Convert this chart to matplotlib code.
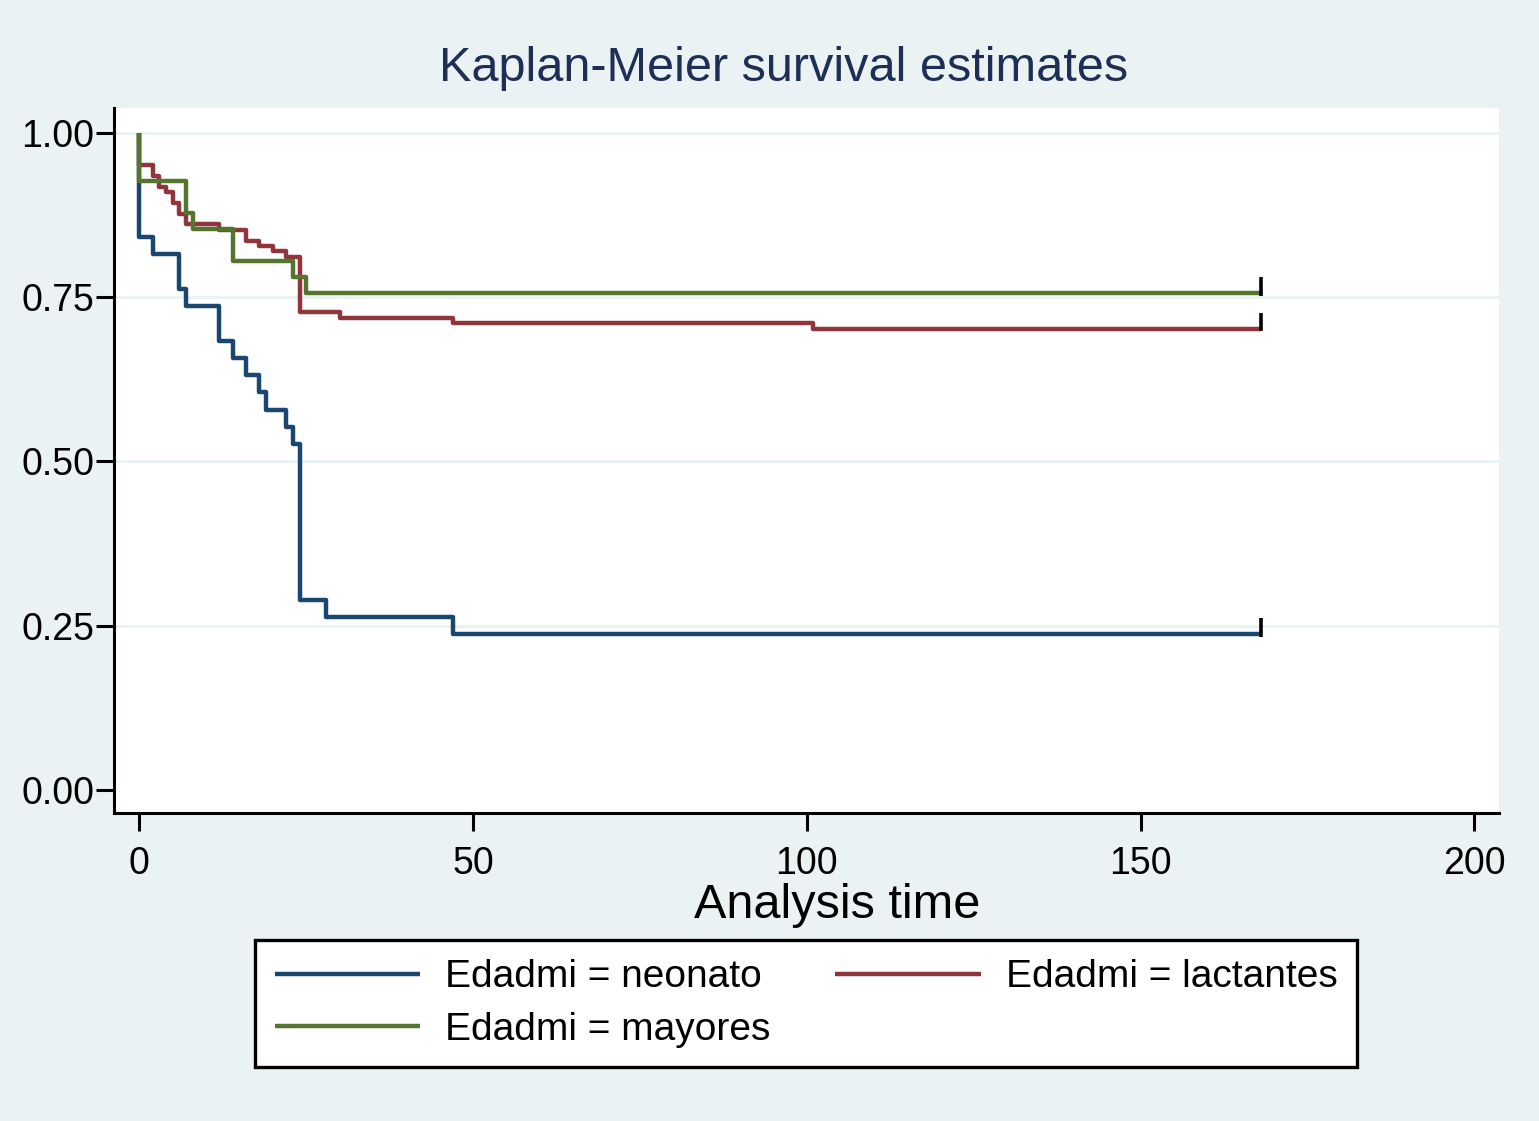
import matplotlib.pyplot as plt

plt.rcParams['font.family'] = ['Liberation Sans', 'DejaVu Sans']

# Kaplan-Meier steps (time, survival after the event)
neo_t = [0, 2, 6, 7, 12, 14, 16, 18, 19, 22, 23, 24, 28, 47]
neo_s = [0.842, 0.816, 0.763, 0.737, 0.684, 0.658, 0.632, 0.605, 0.579,
         0.553, 0.526, 0.289, 0.263, 0.237]

lac_t = [0, 2, 3, 4, 5, 6, 7, 12, 16, 18, 20, 22, 24, 30, 47, 101]
lac_s = [0.951, 0.934, 0.918, 0.910, 0.893, 0.877, 0.861, 0.852, 0.836,
         0.828, 0.820, 0.811, 0.728, 0.719, 0.711, 0.702]

may_t = [0, 7, 8, 14, 23, 25]
may_s = [0.927, 0.878, 0.854, 0.805, 0.780, 0.756]

t_end = 168
labels = ['Edadmi = neonato', 'Edadmi = lactantes', 'Edadmi = mayores']
colors = ['#1A476F', '#90353B', '#55752F']

bg = '#EAF2F3'

fig = plt.figure(figsize=(15.39, 11.21), dpi=100, facecolor=bg)
ax = fig.add_axes([0.0741, 0.2748, 0.8999, 0.6289])
ax.set_facecolor('white')

for y in [0.25, 0.5, 0.75, 1.0]:
    ax.axhline(y, color=bg, lw=2.2, zorder=1)

lines = {}
for lab, col, t, s in zip(labels, colors, [neo_t, lac_t, may_t], [neo_s, lac_s, may_s]):
    xs = [0] + t + [t_end]
    ys = [1.0] + s + [s[-1]]
    ln, = ax.plot(xs, ys, drawstyle='steps-post', color=col, lw=3.2, zorder=3,
                  solid_capstyle='butt', label=lab)
    lines[lab] = ln
    ax.vlines(t_end, s[-1] - 0.004, s[-1] + 0.024, color='black', lw=2.6, zorder=4)

ax.set_xlim(-3.79, 203.7)
ax.set_ylim(-0.035, 1.038)
ax.set_xticks([0, 50, 100, 150, 200])
ax.set_yticks([0, 0.25, 0.5, 0.75, 1.0])
ax.set_yticklabels(['0.00', '0.25', '0.50', '0.75', '1.00'])

for side in ['top', 'right']:
    ax.spines[side].set_visible(False)
for side in ['left', 'bottom']:
    ax.spines[side].set_linewidth(2.2)
    ax.spines[side].set_color('black')

ax.tick_params(axis='both', labelsize=27, width=2.2, length=13, color='black')
ax.tick_params(axis='y', pad=1)
ax.tick_params(axis='x', pad=11)

fig.text(0.5094, 0.939, 'Kaplan-Meier survival estimates', fontsize=35,
         color='#1E2F55', ha='center', va='center')
fig.text(0.5439, 0.1925, 'Analysis time', fontsize=35, ha='center', va='center')

order = [labels[0], labels[2], labels[1]]
leg = fig.legend([lines[k] for k in order], order, ncol=2, fontsize=28,
                 loc='center', bbox_to_anchor=(0.5237, 0.1048),
                 handlelength=3.75, handletextpad=0.64, columnspacing=1.65,
                 labelspacing=0.42, borderpad=0.5, fancybox=False,
                 framealpha=1, edgecolor='black', facecolor='white')
leg.get_frame().set_linewidth(2.4)

fig.savefig('out.png', dpi=100, facecolor=bg)
